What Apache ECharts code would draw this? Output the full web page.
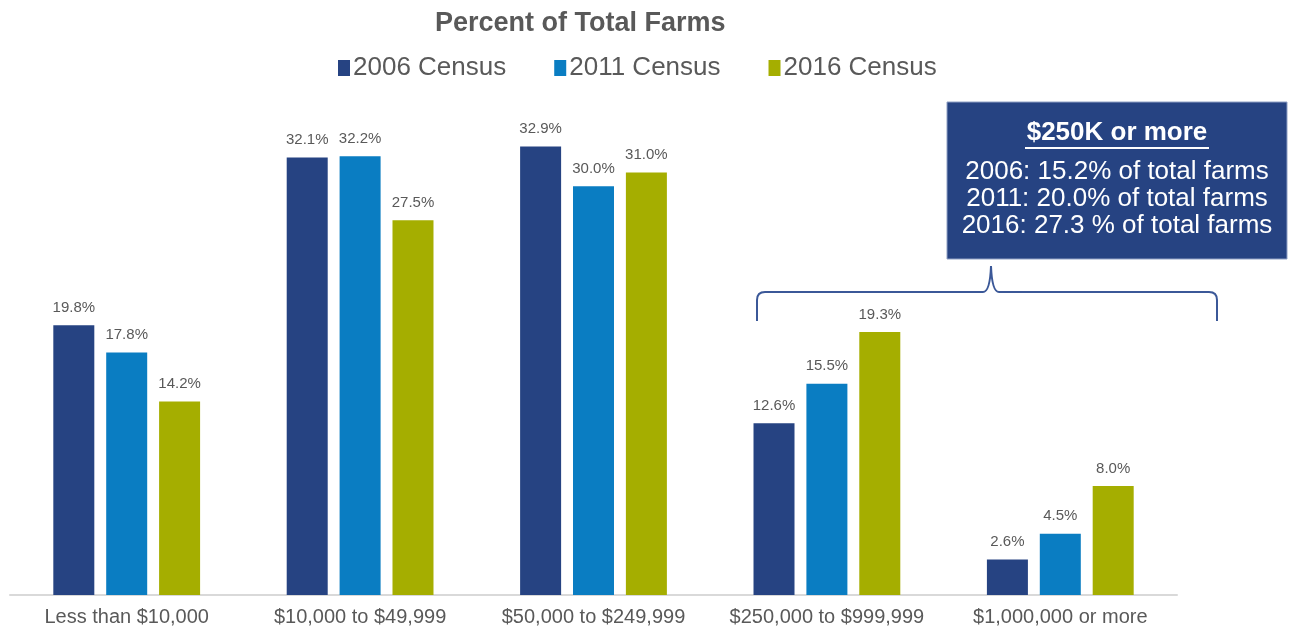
<!DOCTYPE html>
<html lang="en">
<head>
	<meta charset="UTF-8">
	<title>Percent of Total Farms</title>
	<style>
		html, body { margin: 0; padding: 0; background: #fff; }
	</style>
</head>
<body>
	<div id="container" style="width: 1290px;height:629px;"></div>

	<script src="https://cdn.jsdelivr.net/npm/echarts@6/dist/echarts.min.js"></script>
	<script>
        var categories = ['Less than $10,000', '$10,000 to $49,999', '$50,000 to $249,999', '$250,000 to $999,999', '$1,000,000 or more'];
        var census2006 = [19.8, 32.1, 32.9, 12.6, 2.6];
        var census2011 = [17.8, 32.2, 30.0, 15.5, 4.5];
        var census2016 = [14.2, 27.5, 31.0, 19.3, 8.0];
        var boxTitle = '$250K or more';
        var boxLines = ['2006: 15.2% of total farms', '2011: 20.0% of total farms', '2016: 27.3 % of total farms'];

        var font = '"Liberation Sans", Arial, sans-serif';
        var grey = '#595959';
        var braceColor = '#3b5898';

        function barSeries(name, data, color) {
            return {
                name: name,
                type: 'bar',
                data: data,
                barWidth: 41,
                barGap: '29%',
                itemStyle: { color: color },
                label: {
                    show: true,
                    position: 'top',
                    distance: 10,
                    color: grey,
                    fontFamily: font,
                    fontSize: 15,
                    formatter: function (p) { return p.value.toFixed(1) + '%'; }
                }
            };
        }

        // brace pieces above the $250K+ groups
        function braceLine(x1, y1, x2, y2) {
            return { type: 'line', shape: { x1: x1, y1: y1, x2: x2, y2: y2 },
                style: { stroke: braceColor, lineWidth: 2 } };
        }
        function braceCurve(x1, y1, x2, y2, cx, cy) {
            return { type: 'bezierCurve', shape: { x1: x1, y1: y1, x2: x2, y2: y2, cpx1: cx, cpy1: cy },
                style: { stroke: braceColor, lineWidth: 2, fill: null } };
        }

        var option = {
            animation: false,
            title: {
                text: 'Percent of Total Farms',
                left: 430,
                top: 5,
                textStyle: { color: grey, fontFamily: font, fontSize: 27, fontWeight: 'bold' }
            },
            legend: {
                left: 333,
                top: 50,
                itemWidth: 12,
                itemHeight: 16,
                itemGap: 48,
                icon: 'rect',
                textStyle: { color: grey, fontFamily: font, fontSize: 26, padding: [0, 0, 0, -2] },
                data: ['2006 Census', '2011 Census', '2016 Census']
            },
            grid: { left: 10, right: 113, top: 118, bottom: 34, containLabel: false },
            xAxis: {
                type: 'category',
                data: categories,
                axisTick: { show: false },
                axisLine: { lineStyle: { color: '#d9d9d9', width: 2 } },
                axisLabel: { color: grey, fontFamily: font, fontSize: 20, margin: 12, interval: 0 }
            },
            yAxis: {
                type: 'value',
                min: 0,
                max: 35,
                show: false,
                splitLine: { show: false }
            },
            series: [
                barSeries('2006 Census', census2006, '#264382'),
                barSeries('2011 Census', census2011, '#0a7dc2'),
                barSeries('2016 Census', census2016, '#a5ae00')
            ],
            graphic: [
                {
                    type: 'rect',
                    shape: { x: 947, y: 102, width: 340, height: 157 },
                    style: { fill: '#264382', stroke: '#8fa0c4', lineWidth: 1 }
                },
                {
                    type: 'text',
                    x: 1117, y: 133,
                    style: {
                        text: boxTitle, fill: '#fff', font: 'bold 26px ' + font,
                        align: 'center', verticalAlign: 'middle'
                    }
                },
                {
                    type: 'line',
                    shape: { x1: 1025, y1: 148, x2: 1209, y2: 148 },
                    style: { stroke: '#fff', lineWidth: 2 }
                },
                {
                    type: 'text',
                    x: 1117, y: 199,
                    style: {
                        text: boxLines.join('\n'), fill: '#fff', font: '26px ' + font,
                        lineHeight: 27, align: 'center', verticalAlign: 'middle'
                    }
                },
                braceLine(757, 321, 757, 300),
                braceCurve(757, 300, 765, 292, 757, 292),
                braceLine(765, 292, 983, 292),
                braceCurve(983, 292, 991, 266, 990, 292),
                braceCurve(991, 266, 999, 292, 992, 292),
                braceLine(999, 292, 1209, 292),
                braceCurve(1209, 292, 1217, 300, 1217, 292),
                braceLine(1217, 300, 1217, 321)
            ]
        };
        var myChart = echarts.init(document.getElementById('container'));
        myChart.setOption(option);
    </script>
</body>
</html>
